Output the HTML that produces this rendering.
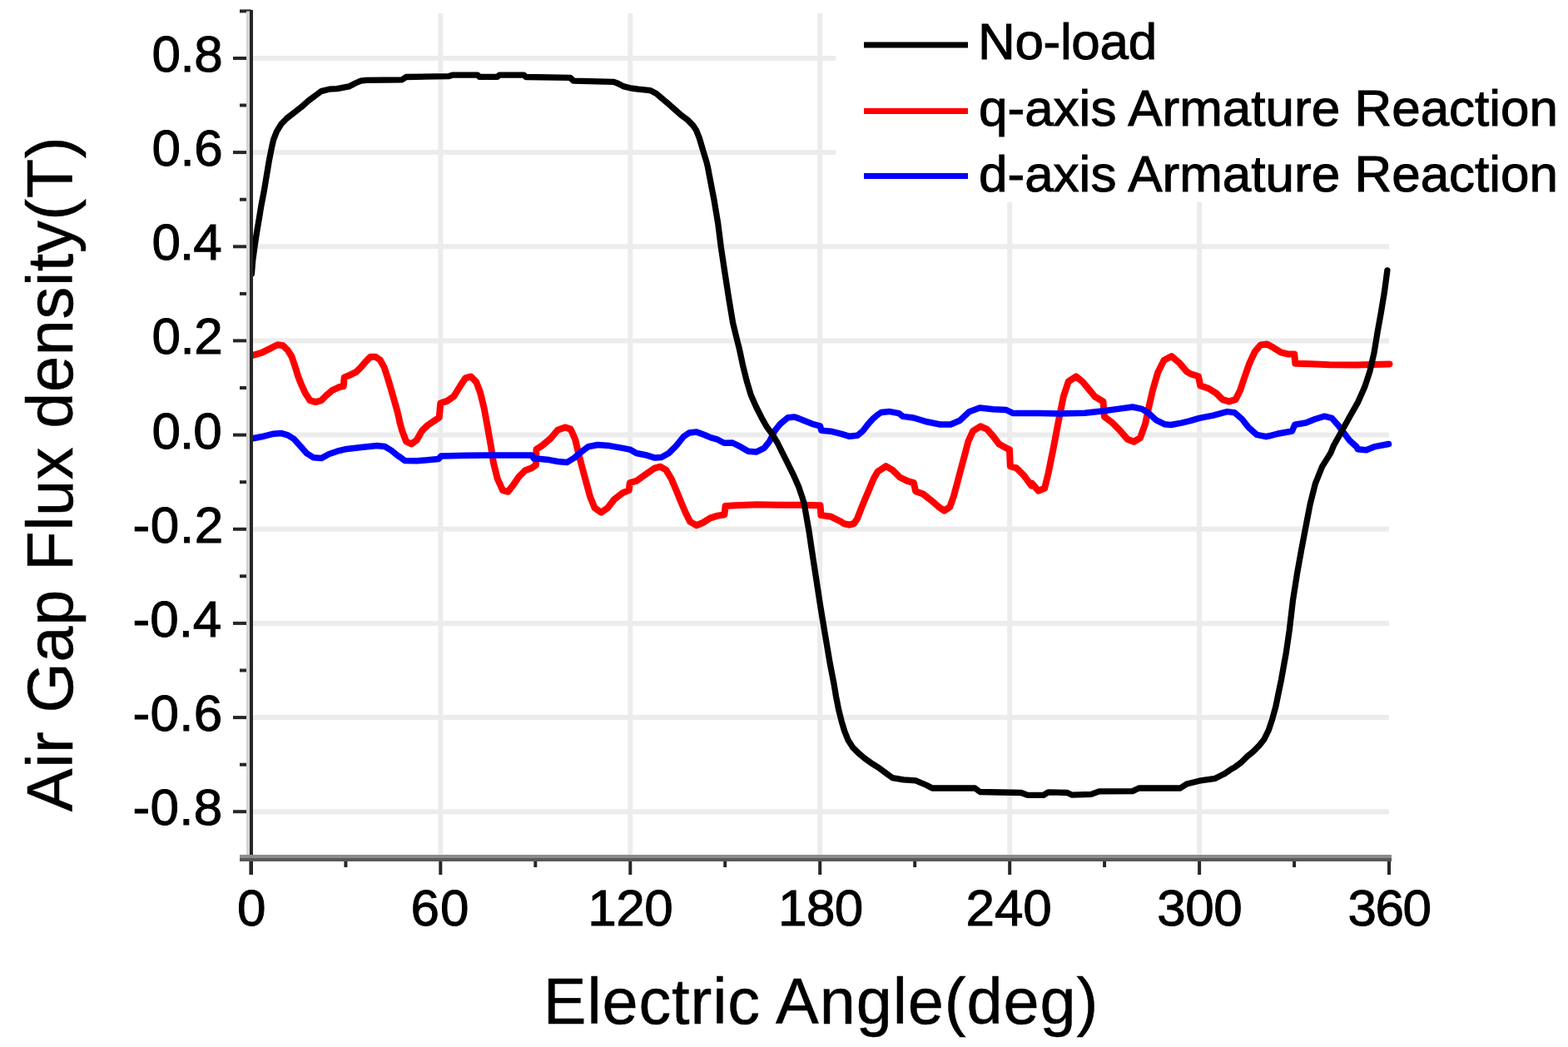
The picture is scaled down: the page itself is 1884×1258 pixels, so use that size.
<!DOCTYPE html>
<html><head><meta charset="utf-8"><title>Air Gap Flux density vs Electric Angle</title>
<style>
html,body{margin:0;padding:0;background:#fff;}
body{width:1884px;height:1258px;overflow:hidden;}
svg{display:block;}
text{font-family:"Liberation Sans",Arial,sans-serif;fill:#000;}
</style></head><body>
<svg width="1884" height="1258" viewBox="0 0 1884 1258">
<rect width="1884" height="1258" fill="#fff"/>
<g stroke="#ececec" stroke-width="6" fill="none">
<line x1="304" y1="70.0" x2="1004.0" y2="70.0"/>
<line x1="304" y1="183.1" x2="1004.0" y2="183.1"/>
<line x1="304" y1="296.3" x2="1669.0" y2="296.3"/>
<line x1="304" y1="409.4" x2="1669.0" y2="409.4"/>
<line x1="304" y1="522.6" x2="1669.0" y2="522.6"/>
<line x1="304" y1="635.8" x2="1669.0" y2="635.8"/>
<line x1="304" y1="748.9" x2="1669.0" y2="748.9"/>
<line x1="304" y1="862.1" x2="1669.0" y2="862.1"/>
<line x1="304" y1="975.2" x2="1669.0" y2="975.2"/>
<line x1="529.3" y1="16" x2="529.3" y2="1027"/>
<line x1="757.3" y1="16" x2="757.3" y2="1027"/>
<line x1="985.2" y1="16" x2="985.2" y2="1027"/>
<line x1="1213.2" y1="243" x2="1213.2" y2="1027"/>
<line x1="1441.1" y1="243" x2="1441.1" y2="1027"/>
</g>
<g fill="none" stroke-linejoin="round" stroke-linecap="round">
<polyline points="301.9,427.2 303.8,426.8 314.3,423.9 323.9,419.1 333.4,414.3 340.1,415.3 345.9,421.0 350.6,428.7 354.5,440.1 358.3,452.5 362.1,462.1 366.9,472.6 372.6,481.2 379.3,483.1 386.0,481.2 391.7,475.5 399.4,468.8 408.0,465.0 412.7,464.0 413.7,453.5 420.4,450.6 428.0,446.8 433.8,441.1 439.5,434.4 445.2,428.7 451.0,428.7 456.7,432.5 461.5,441.1 465.3,452.5 469.1,465.0 472.9,478.3 476.7,491.7 478.7,499.4 480.5,508.0 483.2,517.6 488.0,530.4 494.3,533.5 500.7,528.8 507.0,517.6 513.4,511.3 522.9,504.9 527.7,501.7 529.3,484.3 537.2,481.9 545.2,476.3 553.1,463.6 559.5,454.1 565.9,452.5 572.2,458.8 577.0,471.5 581.7,490.6 584.9,508.1 589.7,535.1 592.9,555.8 597.6,574.9 604.0,589.2 610.4,590.8 616.7,582.8 623.1,573.3 631.0,565.3 639.0,562.2 643.8,559.0 644.5,539.9 651.7,535.1 661.2,527.2 670.0,516.7 678.9,513.4 685.6,515.6 691.1,527.8 695.6,546.7 700.0,563.4 704.5,580.1 709.0,596.8 714.5,610.2 722.3,615.7 730.1,610.2 737.9,600.2 747.9,592.4 755.7,589.0 756.8,580.1 764.6,577.9 775.7,570.1 786.9,562.3 793.5,560.7 800.2,564.6 806.9,575.7 812.5,589.0 818.0,602.4 823.6,615.7 829.2,626.9 836.9,631.3 844.7,628.0 853.6,622.4 862.5,619.6 870.0,618.5 870.4,618.2 871.6,608.0 884.0,607.2 909.4,606.3 934.9,606.8 960.4,606.8 985.5,607.2 986.5,619.1 998.6,620.8 1010.0,626.5 1014.0,629.1 1020.3,630.7 1025.9,629.1 1029.9,623.5 1033.9,613.2 1037.8,603.6 1041.8,594.1 1045.8,584.5 1049.8,575.0 1054.5,566.8 1064.5,560.1 1072.3,564.6 1081.2,573.5 1090.1,577.9 1097.9,580.2 1100.1,590.2 1109.0,593.5 1119.0,601.3 1127.9,609.1 1134.6,613.6 1141.3,609.1 1145.7,596.9 1150.2,580.2 1154.6,563.5 1159.1,546.8 1163.5,530.1 1169.1,517.8 1178.0,512.3 1185.8,515.6 1193.6,524.5 1200.2,533.4 1210.3,539.0 1213.0,540.1 1213.8,560.1 1221.4,562.4 1230.3,571.3 1239.2,583.5 1240.0,580.7 1247.6,589.8 1255.1,586.7 1259.6,568.6 1265.7,538.4 1271.7,506.7 1277.8,476.5 1283.8,458.3 1292.9,452.3 1300.4,458.3 1308.0,467.4 1315.5,476.5 1325.5,482.5 1326.9,500.6 1336.7,508.2 1345.7,517.3 1354.8,527.8 1362.4,530.8 1369.9,526.3 1376.0,509.7 1380.5,488.5 1385.0,468.9 1391.1,447.8 1398.6,432.7 1407.7,428.1 1416.7,435.7 1425.8,446.3 1430.0,449.0 1440.0,452.3 1442.2,463.4 1452.3,466.8 1461.2,472.3 1469.0,480.1 1476.7,482.4 1484.5,480.1 1490.1,469.0 1495.7,452.3 1501.2,436.7 1507.9,422.3 1514.6,414.5 1522.4,413.4 1530.2,417.8 1539.1,423.4 1548.0,425.6 1555.3,425.6 1556.3,436.7 1574.7,437.3 1597.0,438.2 1630.0,438.6 1669.5,437.5" stroke="#ff0000" stroke-width="8"/>
<polyline points="301.9,527.5 303.8,526.8 314.3,524.8 328.7,521.2 338.2,520.6 345.9,522.9 353.5,527.7 361.1,536.3 368.8,544.9 376.4,549.7 386.0,550.6 395.5,545.5 405.1,542.2 414.6,539.8 433.8,537.5 452.9,535.5 462.4,536.5 470.1,541.1 479.0,548.4 480.0,548.7 486.4,553.5 501.2,553.8 526.7,551.6 529.9,548.1 560.0,547.3 586.2,547.1 639.2,547.1 641.4,550.8 660.0,552.6 670.0,554.5 681.1,555.6 690.0,550.1 697.8,543.4 706.7,536.7 717.9,534.5 732.3,535.6 747.9,538.4 756.8,540.1 764.6,544.5 775.7,546.7 786.9,550.1 794.7,549.5 803.6,544.5 812.5,535.6 821.4,524.5 828.0,520.0 836.9,518.9 845.8,522.3 853.6,525.6 861.4,527.8 870.0,532.3 880.0,532.0 889.5,536.7 899.1,542.3 908.6,543.1 918.2,538.3 924.5,530.4 930.9,517.6 937.2,509.7 946.8,501.7 954.7,501.0 960.0,502.9 966.4,505.5 975.9,509.3 985.5,511.8 986.8,517.2 998.2,518.2 1011.0,521.4 1020.5,524.3 1030.1,523.3 1036.4,518.2 1042.8,509.9 1049.2,502.9 1054.3,498.5 1058.7,495.5 1068.3,494.4 1080.0,496.6 1085.0,500.4 1097.7,502.0 1113.6,506.8 1129.5,510.0 1142.2,510.0 1153.3,505.2 1164.5,494.8 1177.2,490.1 1193.1,491.7 1209.0,492.5 1216.9,496.4 1232.8,496.4 1250.0,496.4 1271.8,497.0 1303.6,496.2 1325.9,493.8 1343.3,491.4 1360.8,489.0 1372.0,491.4 1379.9,496.2 1389.4,504.9 1399.0,509.7 1406.9,510.5 1419.7,508.1 1430.0,505.7 1441.1,502.4 1457.8,499.1 1474.5,494.6 1483.4,495.7 1492.3,503.5 1500.1,513.5 1510.1,522.4 1521.3,524.7 1534.6,521.3 1552.4,518.0 1555.8,510.2 1569.1,508.0 1580.3,503.5 1591.4,500.2 1600.3,502.4 1608.1,511.3 1614.8,520.2 1621.4,529.1 1630.0,536.9 1631.3,539.7 1641.7,540.7 1652.0,536.6 1668.5,533.5" stroke="#0000ff" stroke-width="7.5"/>
<polyline points="302.4,329.0 303.6,313.8 306.2,294.6 308.7,278.1 311.3,262.8 313.8,247.5 317.0,231.0 320.2,211.8 323.4,192.7 325.9,180.0 328.6,167.8 332.4,158.2 338.2,148.7 344.8,142.0 353.4,135.3 362.0,128.7 370.6,121.0 378.2,115.3 385.9,109.6 395.4,107.2 405.0,106.7 419.3,103.9 426.9,100.0 433.6,97.2 440.0,96.3 483.0,95.8 488.0,92.5 538.7,91.7 543.5,90.2 573.8,90.2 576.0,92.3 597.6,92.3 600.0,90.2 629.5,90.2 632.0,92.5 685.2,93.3 689.0,97.1 737.0,98.4 738.2,98.6 742.9,100.5 749.6,103.9 757.3,105.8 766.8,107.2 781.1,108.6 788.7,112.4 795.4,118.2 803.1,124.8 810.7,131.5 818.3,138.2 826.0,143.9 832.6,150.6 836.5,156.3 840.3,165.9 843.1,175.4 846.0,185.0 848.9,194.5 850.5,201.0 851.9,208.7 857.9,239.7 862.7,268.4 866.3,297.0 871.0,328.1 875.8,359.1 880.6,387.8 885.0,406.0 888.7,420.7 892.7,439.7 897.5,458.8 902.3,474.7 908.6,489.0 915.0,501.7 921.3,512.9 927.7,521.5 934.1,532.0 940.4,544.7 946.8,557.4 953.1,570.1 959.5,584.4 964.3,598.7 966.1,604.6 972.0,638.0 974.4,654.4 980.1,691.6 985.8,728.8 991.5,763.1 997.3,797.5 1001.7,820.0 1004.5,836.7 1007.8,853.4 1011.2,866.7 1014.5,877.9 1018.9,889.0 1024.5,897.9 1031.2,904.6 1039.0,911.2 1046.8,916.8 1055.7,922.4 1064.6,929.0 1072.3,934.6 1085.7,936.8 1100.2,937.9 1113.5,943.5 1120.0,947.0 1171.6,947.0 1177.3,951.5 1227.0,952.5 1234.7,955.4 1253.8,955.4 1259.5,951.8 1282.4,952.5 1288.2,955.2 1311.1,954.4 1320.6,950.8 1360.8,950.6 1368.4,947.0 1418.1,947.0 1425.8,942.0 1441.0,938.2 1460.2,935.3 1471.6,929.6 1480.0,923.8 1483.2,922.1 1491.4,916.0 1498.6,908.8 1505.7,903.1 1512.9,895.9 1518.6,888.8 1524.3,877.3 1528.6,864.4 1532.9,848.7 1535.8,834.4 1539.4,817.2 1542.2,801.5 1545.1,785.7 1549.3,757.0 1553.4,721.8 1558.6,688.8 1563.8,659.8 1568.9,633.0 1574.1,606.1 1580.3,581.3 1588.6,560.7 1598.9,544.1 1602.4,535.5 1612.7,516.9 1623.1,498.3 1631.3,483.9 1639.6,465.3 1645.8,446.7 1651.0,424.0 1655.1,399.2 1659.2,376.4 1663.3,351.7 1666.9,324.8" stroke="#000" stroke-width="7.3"/>
</g>
<g stroke="#262626" stroke-width="4" fill="none">
<line x1="280" y1="975.2" x2="302" y2="975.2"/>
<line x1="288" y1="918.7" x2="302" y2="918.7"/>
<line x1="280" y1="862.1" x2="302" y2="862.1"/>
<line x1="288" y1="805.5" x2="302" y2="805.5"/>
<line x1="280" y1="748.9" x2="302" y2="748.9"/>
<line x1="288" y1="692.3" x2="302" y2="692.3"/>
<line x1="280" y1="635.8" x2="302" y2="635.8"/>
<line x1="288" y1="579.2" x2="302" y2="579.2"/>
<line x1="280" y1="522.6" x2="302" y2="522.6"/>
<line x1="288" y1="466.0" x2="302" y2="466.0"/>
<line x1="280" y1="409.4" x2="302" y2="409.4"/>
<line x1="288" y1="352.9" x2="302" y2="352.9"/>
<line x1="280" y1="296.3" x2="302" y2="296.3"/>
<line x1="288" y1="239.7" x2="302" y2="239.7"/>
<line x1="280" y1="183.1" x2="302" y2="183.1"/>
<line x1="288" y1="126.5" x2="302" y2="126.5"/>
<line x1="280" y1="70.0" x2="302" y2="70.0"/>
<line x1="288" y1="13.4" x2="302" y2="13.4"/>
<line x1="301.4" y1="1031" x2="301.4" y2="1051"/>
<line x1="415.4" y1="1031" x2="415.4" y2="1042"/>
<line x1="529.3" y1="1031" x2="529.3" y2="1051"/>
<line x1="643.3" y1="1031" x2="643.3" y2="1042"/>
<line x1="757.3" y1="1031" x2="757.3" y2="1051"/>
<line x1="871.2" y1="1031" x2="871.2" y2="1042"/>
<line x1="985.2" y1="1031" x2="985.2" y2="1051"/>
<line x1="1099.2" y1="1031" x2="1099.2" y2="1042"/>
<line x1="1213.2" y1="1031" x2="1213.2" y2="1051"/>
<line x1="1327.1" y1="1031" x2="1327.1" y2="1042"/>
<line x1="1441.1" y1="1031" x2="1441.1" y2="1051"/>
<line x1="1555.1" y1="1031" x2="1555.1" y2="1042"/>
<line x1="1669.0" y1="1031" x2="1669.0" y2="1051"/>
<line x1="298" y1="13.4" x2="298" y2="1027" stroke="#d4d4d4"/>
<line x1="302" y1="12" x2="302" y2="1051"/>
<line x1="288" y1="1029" x2="1672.0" y2="1029" stroke="#8c8c8c"/>
<line x1="288" y1="1033" x2="1672.0" y2="1033" stroke="#595959"/>
</g>
<g>
<text x="182.50" y="85.96" font-size="62" stroke="#000" stroke-width="1.0" textLength="85.20" lengthAdjust="spacing">0.8</text>
<text x="182.50" y="199.12" font-size="62" stroke="#000" stroke-width="1.0" textLength="85.20" lengthAdjust="spacing">0.6</text>
<text x="182.50" y="312.28" font-size="62" stroke="#000" stroke-width="1.0" textLength="84.20" lengthAdjust="spacing">0.4</text>
<text x="182.50" y="425.44" font-size="62" stroke="#000" stroke-width="1.0" textLength="85.20" lengthAdjust="spacing">0.2</text>
<text x="182.50" y="538.60" font-size="62" stroke="#000" stroke-width="1.0" textLength="84.20" lengthAdjust="spacing">0.0</text>
<text x="159.50" y="651.76" font-size="62" stroke="#000" stroke-width="1.0" textLength="108.84" lengthAdjust="spacing">-0.2</text>
<text x="159.50" y="764.92" font-size="62" stroke="#000" stroke-width="1.0" textLength="106.84" lengthAdjust="spacing">-0.4</text>
<text x="159.50" y="878.08" font-size="62" stroke="#000" stroke-width="1.0" textLength="107.84" lengthAdjust="spacing">-0.6</text>
<text x="159.50" y="991.24" font-size="62" stroke="#000" stroke-width="1.0" textLength="107.84" lengthAdjust="spacing">-0.8</text>
<text x="285.00" y="1111.50" font-size="62" stroke="#000" stroke-width="1.0">0</text>
<text x="493.50" y="1111.50" font-size="62" stroke="#000" stroke-width="1.0" textLength="69.97" lengthAdjust="spacing">60</text>
<text x="706.20" y="1111.50" font-size="62" stroke="#000" stroke-width="1.0" textLength="102.45" lengthAdjust="spacing">120</text>
<text x="934.90" y="1111.50" font-size="62" stroke="#000" stroke-width="1.0" textLength="102.45" lengthAdjust="spacing">180</text>
<text x="1160.40" y="1111.50" font-size="62" stroke="#000" stroke-width="1.0" textLength="103.45" lengthAdjust="spacing">240</text>
<text x="1390.20" y="1111.50" font-size="62" stroke="#000" stroke-width="1.0" textLength="102.45" lengthAdjust="spacing">300</text>
<text x="1619.50" y="1111.50" font-size="62" stroke="#000" stroke-width="1.0" textLength="100.45" lengthAdjust="spacing">360</text>
<text x="1175.00" y="70.80" font-size="62" stroke="#000" stroke-width="1.0" textLength="215.12" lengthAdjust="spacing">No-load</text>
<text x="1176.00" y="150.80" font-size="62" stroke="#000" stroke-width="1.0" textLength="696.08" lengthAdjust="spacing">q-axis Armature Reaction</text>
<text x="1176.00" y="230.30" font-size="62" stroke="#000" stroke-width="1.0" textLength="696.08" lengthAdjust="spacing">d-axis Armature Reaction</text>
<text x="652.80" y="1229.80" font-size="77.5" stroke="#000" stroke-width="0.5" textLength="666.47" lengthAdjust="spacing">Electric Angle(deg)</text>
<text transform="rotate(-90)" x="-975.20" y="86.80" font-size="77.5" stroke="#000" stroke-width="0.5" textLength="810.73" lengthAdjust="spacing">Air Gap Flux density(T)</text>
</g>
<g stroke-width="7">
<line x1="1038" y1="54" x2="1163" y2="54" stroke="#000"/>
<line x1="1038" y1="133.5" x2="1163" y2="133.5" stroke="#ff0000"/>
<line x1="1038" y1="211.5" x2="1163" y2="211.5" stroke="#0000ff"/>
</g>
</svg>
</body></html>
